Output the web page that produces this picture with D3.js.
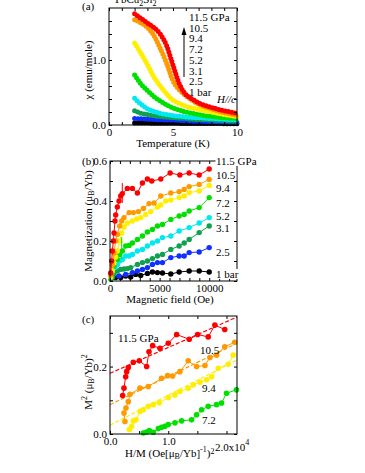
<!DOCTYPE html>
<html><head><meta charset="utf-8">
<script src="https://cdn.jsdelivr.net/npm/d3@7"></script>
<style>
html,body{margin:0;padding:0;background:#fff;}
svg{display:block;font-family:"Liberation Serif","Times New Roman",serif;}
</style></head>
<body>
<svg id="chart" width="365" height="473"></svg>
<script>
// ---------- DATA ----------
const pressures = ["11.5 GPa","10.5","9.4","7.2","5.2","3.1","2.5","1 bar"];
const colors = ["#ff0000","#ff9900","#ffee00","#00e000","#00e8f0","#10a050","#1030ff","#000000"];

// (a) chi vs T
const tempK = [2,2.5,3,3.5,4,4.5,5,5.5,6,6.5,7,8,9,10];
const chi115 = [1.71,1.64,1.57,1.50,1.40,1.22,0.92,0.63,0.47,0.40,0.34,0.27,0.22,0.18];
const chi105 = [1.62,1.57,1.50,1.38,1.18,0.95,0.68,0.54,0.45,0.38,0.32,0.25,0.19,0.15];
const chi94  = [1.26,1.10,0.93,0.74,0.60,0.48,0.38,0.33,0.29,0.26,0.24,0.20,0.16,0.13];
const chi72  = [0.77,0.63,0.53,0.44,0.37,0.31,0.26,0.23,0.20,0.18,0.16,0.13,0.11,0.10];
const chi52  = [0.41,0.32,0.25,0.21,0.18,0.16,0.145,0.135,0.125,0.115,0.11,0.10,0.09,0.08];
const chi31  = [0.22,0.18,0.16,0.14,0.13,0.12,0.11,0.105,0.10,0.09,0.085,0.075,0.065,0.06];
const chi25  = [0.10,0.095,0.09,0.085,0.08,0.078,0.075,0.07,0.065,0.06,0.057,0.05,0.045,0.04];
const chi1bar= [0.03,0.03,0.03,0.028,0.028,0.027,0.026,0.025,0.025,0.024,0.023,0.022,0.021,0.02];

// (b) M vs H
const field115 = [70,170,235,336,404,505,572,740,909,1080,1240,1750,2256,2760,3266,3770,4210,5118,6060,7037,7979,8989,9999];
const mag115   = [0.04,0.10,0.15,0.20,0.24,0.30,0.33,0.37,0.40,0.425,0.437,0.463,0.463,0.44,0.49,0.51,0.50,0.51,0.54,0.53,0.54,0.53,0.56];
const field105 = [70,235,404,576,740,980,1180,1414,1919,2353,2858,3363,3939,4444,5118,6128,6970,7475,7979,8989,9999];
const mag105   = [0.03,0.08,0.14,0.20,0.233,0.275,0.30,0.317,0.342,0.342,0.347,0.363,0.387,0.39,0.425,0.44,0.447,0.458,0.472,0.483,0.508];
const field94  = [70,235,404,572,740,980,1180,1414,1750,2256,2700,3100,3600,4110,4780,5118,5623,6128,6970,7475,7979,8989,9999];
const mag94    = [0.02,0.05,0.09,0.12,0.15,0.20,0.24,0.27,0.29,0.30,0.31,0.317,0.333,0.347,0.37,0.38,0.40,0.405,0.417,0.425,0.442,0.45,0.478];
const field72  = [70,235,404,740,976,1245,1582,1919,2256,2761,3266,3770,4276,4781,5286,6128,6970,7475,7979,8989,9999];
const mag72    = [0.01,0.04,0.075,0.108,0.133,0.15,0.175,0.178,0.19,0.208,0.225,0.245,0.258,0.275,0.283,0.308,0.325,0.333,0.35,0.367,0.417];
const field52  = [235,505,740,976,1245,1582,1919,2256,2761,3266,3770,4276,4781,5286,6128,6970,7979,8989,9999];
const mag52    = [0.042,0.067,0.083,0.10,0.108,0.125,0.125,0.133,0.15,0.158,0.175,0.19,0.2,0.217,0.225,0.25,0.267,0.29,0.317];
const field31  = [235,404,740,1080,1414,1750,2087,2761,3266,3770,4276,4781,5286,6128,6970,7475,7979,8989,9999];
const mag31    = [0.02,0.035,0.05,0.058,0.06,0.062,0.067,0.083,0.092,0.10,0.112,0.125,0.133,0.158,0.175,0.19,0.208,0.242,0.275];
const field25  = [235,909,1582,2256,2761,3266,3770,4276,4781,5286,6128,6970,7475,7979,8989,9999];
const mag25    = [0.017,0.025,0.033,0.042,0.05,0.058,0.067,0.083,0.092,0.092,0.117,0.125,0.125,0.142,0.145,0.167];
const field1bar= [70,572,1080,1582,2087,2593,3098,3770,4276,4781,5286,6128,6970,7979,8989,9999];
const mag1bar  = [0.033,0.017,0.017,0.025,0.02,0.033,0.028,0.038,0.045,0.042,0.04,0.035,0.045,0.05,0.05,0.045];
const errField = [1240,1180];
const errLow   = [0.39,0.11];
const errHigh  = [0.49,0.22];
const errColor = ["#ff0000","#00e000"];

// (c) Arrott plot  (H/M in 1e4 units, M^2)
const hm115 = [0.217,0.24,0.269,0.286,0.314,0.40,0.503,0.629,0.669,0.732,0.858,1.0,1.144,1.36,1.504,1.686,1.80,1.97];
const msq115= [0.114,0.136,0.170,0.185,0.197,0.213,0.217,0.20,0.244,0.262,0.254,0.269,0.295,0.281,0.295,0.288,0.323,0.31];
const hm105 = [0.257,0.24,0.274,0.314,0.343,0.515,0.657,0.886,0.989,1.075,1.2,1.343,1.486,1.63,1.715,1.83,1.97,2.14];
const msq105= [0.037,0.062,0.077,0.096,0.118,0.136,0.141,0.165,0.173,0.172,0.185,0.217,0.2,0.203,0.227,0.234,0.259,0.272];
const hm94  = [0.332,0.372,0.40,0.446,0.515,0.572,0.657,0.743,0.846,1.0,1.115,1.2,1.343,1.429,1.544,1.658,1.744,1.858,2.03,2.115];
const msq94 = [0.013,0.023,0.039,0.042,0.067,0.072,0.082,0.087,0.093,0.108,0.116,0.126,0.136,0.146,0.154,0.161,0.17,0.195,0.207,0.234];
const hm72  = [0.572,0.629,0.675,0.743,0.829,0.886,0.943,1.0,1.115,1.229,1.4,1.486,1.572,1.686,1.83,1.915,2.0,2.17];
const msq72 = [0.003,0.006,0.01,0.005,0.016,0.02,0.023,0.028,0.033,0.039,0.042,0.057,0.072,0.082,0.087,0.092,0.121,0.131];
const fitIntercept = [0.18,0.087,0.026];
const fitSlope     = [0.0766,0.0835,0.089];

// ticks
const aTicksX=[0,1,2,3,4,5,6,7,8,9,10], aLabelsX=[0,5,10];
const aTicksY=[0,0.2,0.4,0.6,0.8,1.0,1.2,1.4,1.6], aLabelsY=[0,1.0];
const bTicksX=[0,1000,2000,3000,4000,5000,6000,7000,8000,9000,10000,11000,12000], bLabelsX=[0,5000,10000];
const bTicksY=[0,0.1,0.2,0.3,0.4,0.5,0.6], bLabelsY=[0,0.2,0.4,0.6];
const cTicksX=[0,0.5,1.0,1.5,2.0], cLabelsX=[0,1.0];
const cTicksY=[0,0.1,0.2,0.3], cLabelsY=[0,0.2];

// ---------- DRAW ----------
const svg = d3.select("#chart");
const FS = 11;
const FONT = "Liberation Serif, Times New Roman, serif";

function axes(x, y, xt, xl, xf, yt, yl, yf, xpad) {
  const [xa, xb] = x.range(), [ya, yb] = y.range();
  const fx = d => xl.includes(d) ? xf(d) : "";
  const fy = d => yl.includes(d) ? yf(d) : "";
  const gB = svg.append("g").attr("transform",`translate(0,${ya})`)
    .call(d3.axisBottom(x).tickValues(xt).tickSizeInner(-3).tickSizeOuter(0).tickPadding(xpad).tickFormat(fx));
  const gT = svg.append("g").attr("transform",`translate(0,${yb})`)
    .call(d3.axisTop(x).tickValues(xt).tickSizeInner(-3).tickSizeOuter(0).tickFormat(""));
  const gL = svg.append("g").attr("transform",`translate(${xa},0)`)
    .call(d3.axisLeft(y).tickValues(yt).tickSizeInner(-3).tickSizeOuter(0).tickPadding(3).tickFormat(fy));
  const gR = svg.append("g").attr("transform",`translate(${xb},0)`)
    .call(d3.axisRight(y).tickValues(yt).tickSizeInner(-3).tickSizeOuter(0).tickFormat(""));
  [gB,gT,gL,gR].forEach(g=>{
    g.attr("font-family",FONT).attr("font-size",FS);
    g.select(".domain").remove();
    g.selectAll("text").attr("fill","#000");
    g.selectAll("line").attr("stroke","#000");
  });
  svg.append("rect").attr("x",xa).attr("y",yb).attr("width",xb-xa).attr("height",ya-yb)
    .attr("fill","none").attr("stroke","#000").attr("stroke-width",1);
}

function txt(x, y, s, opts={}) {
  const t = svg.append("text").attr("x",x).attr("y",y).attr("font-size",opts.fs||FS).attr("fill","#000")
    .attr("font-family",FONT).attr("text-anchor",opts.anchor||"start");
  if (opts.italic) t.attr("font-style","italic");
  t.text(s);
  return t;
}

// ===== Panel (a) =====
const xa = d3.scaleLinear().domain([0,10]).range([109,237]);
const ya = d3.scaleLinear().domain([0,1.8]).range([125,8]);
const chiSeries = [chi115,chi105,chi94,chi72,chi52,chi31,chi25,chi1bar];
const lineA = d3.line().x((d,i)=>xa(tempK[i])).y(d=>ya(d)).curve(d3.curveMonotoneX);
const gA = svg.append("g");
for (let k = chiSeries.length-1; k >= 0; k--) {
  gA.append("path").attr("d", lineA(chiSeries[k])).attr("fill","none")
    .attr("stroke",colors[k]).attr("stroke-width",5).attr("stroke-linecap","round")
    .attr("stroke-dasharray","0 3.3");
}
axes(xa, ya, aTicksX, aLabelsX, d3.format("d"), aTicksY, aLabelsY, d3.format(".1f"), 3);
txt(82, 10, "(a)");
const title = svg.append("text").attr("x",113).attr("y",3).attr("font-size",FS).attr("font-family",FONT);
title.append("tspan").text("YbCu");
title.append("tspan").attr("font-size",8).attr("dy",3).text("2");
title.append("tspan").attr("dy",-3).text("Si");
title.append("tspan").attr("font-size",8).attr("dy",3).text("2");
txt(173, 147, "Temperature (K)", {anchor:"middle"});
const ylabA = svg.append("text").attr("transform","translate(92,70) rotate(-90)").attr("text-anchor","middle")
  .attr("font-size",FS).attr("font-family",FONT);
ylabA.append("tspan").text("χ (emu/mole)");
pressures.forEach((p,i)=> txt(189, 21 + i*10.7, p));
svg.append("line").attr("x1",184).attr("y1",77).attr("x2",184).attr("y2",34).attr("stroke","#000").attr("stroke-width",1);
svg.append("path").attr("d","M184,27 L181.5,35 L186.5,35 Z").attr("fill","#000");
txt(217, 103, "H//c", {italic:true});

// ===== Panel (b) =====
const xb = d3.scaleLinear().domain([0,12800]).range([110,237]);
const yb = d3.scaleLinear().domain([0,0.6]).range([281,161]);
const fieldSets = [field115,field105,field94,field72,field52,field31,field25,field1bar];
const magSets = [mag115,mag105,mag94,mag72,mag52,mag31,mag25,mag1bar];
const gB = svg.append("g");
for (let k = fieldSets.length-1; k >= 0; k--) {
  const pts = fieldSets[k].map((h,i)=>[h, magSets[k][i]]);
  gB.append("path").attr("d", d3.line().x(d=>xb(d[0])).y(d=>yb(d[1]))(pts))
    .attr("fill","none").attr("stroke",colors[k]).attr("stroke-width",1);
  gB.selectAll(null).data(pts).enter().append("circle")
    .attr("cx",d=>xb(d[0])).attr("cy",d=>yb(d[1])).attr("r",2.7).attr("fill",colors[k]);
}
errField.forEach((h,i)=>{
  gB.append("line").attr("x1",xb(h)).attr("x2",xb(h)).attr("y1",yb(errLow[i])).attr("y2",yb(errHigh[i]))
    .attr("stroke",errColor[i]).attr("stroke-width",1);
});
axes(xb, yb, bTicksX, bLabelsX, d3.format("d"), bTicksY, bLabelsY, d3.format(".1f"), 3);
txt(82, 165, "(b)");
txt(170, 303, "Magnetic field (Oe)", {anchor:"middle"});
const ylabB = svg.append("text").attr("transform","translate(92,221) rotate(-90)").attr("text-anchor","middle")
  .attr("font-size",FS).attr("font-family",FONT);
ylabB.append("tspan").text("Magnetization (μ");
ylabB.append("tspan").attr("font-size",8).attr("dy",2).text("B");
ylabB.append("tspan").attr("dy",-2).text("/Yb)");
const bLabelY = [165,179,192,207,220,232,256,278];
pressures.forEach((p,i)=>{
  const t = txt(216, bLabelY[i], p);
  const bb = t.node().getBBox();
  svg.insert("rect", () => t.node()).attr("x",bb.x-0.5).attr("y",bb.y+1).attr("width",bb.width+1).attr("height",bb.height-2).attr("fill","#fff");
});

// ===== Panel (c) =====
const xc = d3.scaleLinear().domain([0,2.18]).range([110,237]);
const yc = d3.scaleLinear().domain([0,0.35]).range([434,316]);
const hmSets = [hm115,hm105,hm94,hm72];
const msqSets = [msq115,msq105,msq94,msq72];
const gC = svg.append("g");
for (let k = hmSets.length-1; k >= 0; k--) {
  if (k < fitIntercept.length) {
    const x0 = 0, x1 = 2.18;
    gC.append("line").attr("x1",xc(x0)).attr("y1",yc(fitIntercept[k]+fitSlope[k]*x0))
      .attr("x2",xc(x1)).attr("y2",yc(fitIntercept[k]+fitSlope[k]*x1))
      .attr("stroke",colors[k]).attr("stroke-width",1.2).attr("stroke-dasharray","4 2");
  }
  const pts = hmSets[k].map((h,i)=>[h, msqSets[k][i]]);
  gC.append("path").attr("d", d3.line().x(d=>xc(d[0])).y(d=>yc(d[1]))(pts))
    .attr("fill","none").attr("stroke",colors[k]).attr("stroke-width",1);
  gC.selectAll(null).data(pts).enter().append("circle")
    .attr("cx",d=>xc(d[0])).attr("cy",d=>yc(d[1])).attr("r",2.8).attr("fill",colors[k]);
}
axes(xc, yc, cTicksX, cLabelsX, d3.format(".1f"), cTicksY, cLabelsY, d3.format(".1f"), 3);
txt(82, 323, "(c)");
const t2 = svg.append("text").attr("x",215).attr("y",451).attr("font-size",FS).attr("font-family",FONT);
t2.append("tspan").text("2.0x10");
t2.append("tspan").attr("font-size",8).attr("dy",-6).text("4");
const xlabC = svg.append("text").attr("x",125).attr("y",457).attr("font-size",FS).attr("font-family",FONT);
xlabC.append("tspan").text("H/M (Oe[μ");
xlabC.append("tspan").attr("font-size",8).attr("dy",2).text("B");
xlabC.append("tspan").attr("dy",-2).text("/Yb]");
xlabC.append("tspan").attr("font-size",8).attr("dy",-5).text("-1");
xlabC.append("tspan").attr("dy",5).text(")");
xlabC.append("tspan").attr("font-size",8).attr("dy",-3).text("2");
const ylabC = svg.append("text").attr("transform","translate(92,382) rotate(-90)").attr("text-anchor","middle")
  .attr("font-size",FS).attr("font-family",FONT);
ylabC.append("tspan").text("M");
ylabC.append("tspan").attr("font-size",8).attr("dy",-5).text("2");
ylabC.append("tspan").attr("dy",5).text(" (μ");
ylabC.append("tspan").attr("font-size",8).attr("dy",2).text("B");
ylabC.append("tspan").attr("dy",-2).text("/Yb)");
ylabC.append("tspan").attr("font-size",8).attr("dy",-5).text("2");
txt(118, 342, "11.5 GPa");
txt(200, 354, "10.5");
txt(202, 392, "9.4");
txt(202, 424, "7.2");
</script>
</body></html>
